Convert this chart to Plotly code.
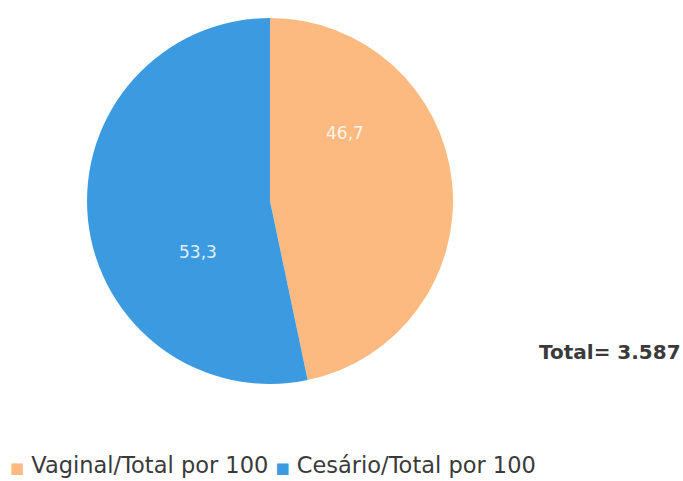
import plotly.graph_objects as go

labels = ["Vaginal/Total por 100", "Cesário/Total por 100"]
values = [46.7, 53.3]
colors = ["#FDBA80", "#3C9BE0"]
total_text = "Total= 3.587"

W, H = 683, 481
cx, cy, r = 270, 201, 183

# value labels placed inside each slice (pixel positions)
label_pos = [(345, 133), (198, 252)]

fig = go.Figure(go.Pie(
    labels=labels,
    values=values,
    sort=False,
    direction="clockwise",
    rotation=0,
    marker=dict(colors=colors, line=dict(width=0)),
    textinfo="none",
    domain=dict(x=[(cx - r) / W, (cx + r) / W], y=[1 - (cy + r) / H, 1 - (cy - r) / H]),
    hoverinfo="label+value",
    showlegend=False,
))

for v, (px, py) in zip(values, label_pos):
    fig.add_annotation(
        x=px / W, y=1 - py / H, xref="paper", yref="paper",
        text=f"{v:.1f}".replace(".", ","), showarrow=False,
        font=dict(size=17, color="rgba(255,255,255,0.85)", family="DejaVu Sans"),
        xanchor="center", yanchor="middle",
    )

fig.add_annotation(
    x=610 / W, y=1 - 352 / H, xref="paper", yref="paper", text=f"<b>{total_text}</b>",
    showarrow=False, font=dict(size=20, color="#3a3a3a", family="DejaVu Sans"),
    xanchor="center", yanchor="middle",
)

# legend row drawn as text with coloured square markers
legend_html = " ".join(
    f"<span style='color:{c}; font-size:15px'>■</span> {lab}" for lab, c in zip(labels, colors)
)
fig.add_annotation(
    x=8 / W, y=1 - 465 / H, xref="paper", yref="paper", text=legend_html,
    showarrow=False, font=dict(size=22.5, color="#3a3a3a", family="DejaVu Sans"),
    xanchor="left", yanchor="middle",
)

fig.update_layout(
    width=W, height=H,
    margin=dict(l=0, r=0, t=0, b=0),
    paper_bgcolor="white",
    plot_bgcolor="white",
    separators=",.",
)

fig.write_html("out.html")
